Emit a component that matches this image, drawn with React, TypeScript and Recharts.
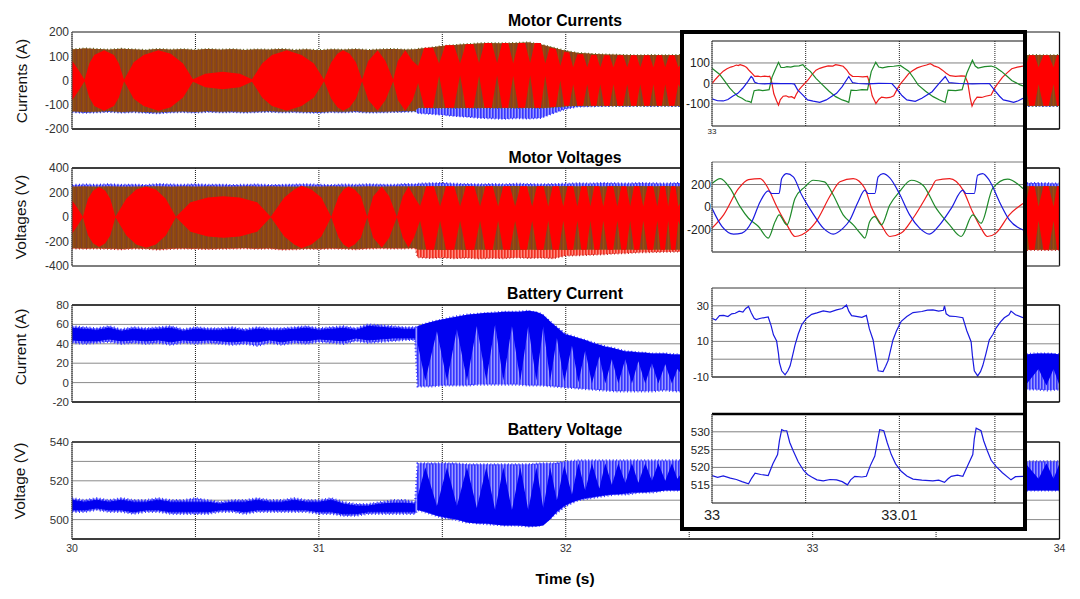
import React from "react";
import { ComposedChart, Area, Line, XAxis, YAxis, CartesianGrid, ReferenceLine } from "recharts";

const W = 1080, H = 599;
const SANS = "'Liberation Sans', Arial, sans-serif";

// ---------- shared envelope time base (seconds); 32.5-33.85 lies behind the inset
const envelopeTimes = [30,30.05,30.1,30.15,30.2,30.25,30.3,30.35,30.4,30.45,30.5,30.55,30.6,30.65,30.7,30.75,30.8,30.85,30.9,30.95,31,31.05,31.1,31.15,31.2,31.25,31.3,31.35,31.39,31.4,31.45,31.5,31.55,31.6,31.65,31.7,31.75,31.8,31.85,31.9,31.95,32,32.05,32.1,32.15,32.2,32.25,32.3,32.35,32.4,32.45,32.5,33.85,33.9,33.95,34];

// ---------- Motor currents
const currentHigh = [128,132,130,127,131,128,126,130,127,129,126,130,127,129,126,128,127,130,126,128,125,128,127,129,126,128,130,127,128,130,135,142,146,150,153,154,153,155,157,148,135,122,113,110,107,106,105,104,105,104,105,104,104,105,104,105];
const currentLow = [-127,-129,-128,-126,-129,-127,-130,-131,-128,-127,-129,-126,-128,-127,-129,-127,-126,-128,-127,-129,-130,-127,-128,-126,-129,-128,-127,-126,-126,-112,-112,-113,-112,-113,-112,-113,-112,-113,-112,-113,-110,-106,-104,-104,-104,-105,-104,-105,-104,-104,-105,-104,-104,-105,-104,-105];
const currentBlueLow = [-131,-134,-132,-130,-133,-131,-134,-136,-132,-131,-133,-130,-132,-131,-133,-131,-130,-132,-131,-133,-134,-131,-132,-130,-133,-132,-131,-130,-128,-135,-138,-142,-147,-150,-155,-157,-159,-156,-158,-155,-135,-118,-108,-107,-106,-105,-106,-105,-106,-105,-106,-105,-106,-105,-106,-105];
const currentRedTimes = [30,30.025,30.051,30.07,30.09,30.13,30.17,30.19,30.211,30.25,30.29,30.35,30.4,30.45,30.49,30.54,30.61,30.68,30.729,30.77,30.81,30.87,30.93,30.98,31.021,31.05,31.075,31.098,31.125,31.15,31.175,31.2,31.238,31.27,31.301,31.32,31.35,31.38,
  31.402,31.427,31.462,31.487,31.512,31.547,31.572,31.595,31.626,31.649,31.671,31.7,31.722,31.742,31.767,31.787,31.808,31.835,31.856,31.874,31.899,31.917,31.935,31.96,31.978,31.994,32.014,32.03,32.047,32.07,32.087,32.103,32.124,32.14,32.156,32.177,32.193,32.21,32.232,32.249,32.265,32.286,32.302,32.318,32.339,32.355,32.369,32.389,32.403,32.419,32.44,32.456,32.5,33.85,33.862,33.878,33.899,33.915,33.935,33.956,33.976,33.99,34];
const currentRedHigh = [82,45,3,70,105,125,105,70,3,75,105,125,110,70,5,28,36,28,5,70,105,125,105,70,3,75,110,125,110,75,3,80,125,80,3,80,125,80,
  60,135,135,70,145,145,70,150,150,72,155,155,72,155,155,70,155,155,72,155,155,70,135,130,60,118,115,55,108,108,55,105,105,55,104,104,55,104,104,55,104,104,55,104,104,55,104,104,55,104,104,55,104,104,55,104,104,55,104,104,55,104,104];
const currentRedLow = [-82,-45,-3,-70,-105,-125,-105,-70,-3,-75,-105,-125,-110,-70,-5,-28,-36,-28,-5,-70,-105,-125,-105,-70,-3,-75,-110,-125,-110,-75,-3,-80,-125,-80,-3,-80,-125,-80,
  -10,-112,-112,20,-112,-112,22,-112,-112,20,-112,-112,22,-112,-112,20,-112,-112,22,-112,-112,20,-110,-108,0,-104,-104,-15,-104,-104,-15,-104,-104,-15,-104,-104,-15,-104,-104,-15,-104,-104,-15,-104,-104,-15,-104,-104,-15,-104,-104,-15,-104,-104,-15,-104,-104,-15,-104,-104,-15,-104,-104];

// ---------- Motor voltages
const voltageBlueHigh = [262,266,264,268,263,265,262,270,266,264,268,263,265,262,264,266,262,263,265,268,264,262,266,264,268,265,263,270,268,272,276,278,272,270,268,270,268,272,270,268,270,272,276,274,278,276,274,278,276,274,278,276,276,278,276,274];
const voltageHigh = [250,252,250,251,249,250,252,251,250,252,250,251,249,250,252,250,251,249,250,252,250,251,250,249,251,250,252,251,252,253,252,253,252,253,252,253,252,253,252,253,252,253,252,253,252,253,252,253,252,253,252,253,253,252,253,252];
const voltageLow = [-255,-257,-256,-258,-262,-256,-258,-264,-258,-256,-258,-260,-258,-256,-254,-258,-256,-264,-262,-258,-260,-256,-258,-262,-256,-254,-256,-255,-254,-268,-268,-270,-268,-270,-268,-270,-268,-270,-268,-270,-268,-270,-268,-268,-268,-268,-268,-268,-268,-268,-268,-268,-268,-268,-268,-268];
const voltagePinkLow = [-258,-260,-259,-262,-265,-259,-261,-268,-262,-259,-261,-264,-261,-259,-257,-261,-259,-267,-265,-261,-263,-259,-261,-265,-259,-257,-259,-258,-257,-330,-336,-332,-338,-334,-340,-336,-338,-332,-336,-334,-338,-316,-314,-310,-306,-300,-296,-290,-288,-286,-284,-283,-272,-270,-272,-270];
const voltageRedTimes = [30,30.02,30.044,30.065,30.085,30.11,30.135,30.155,30.176,30.22,30.26,30.3,30.34,30.38,30.421,30.48,30.55,30.613,30.68,30.75,30.805,30.86,30.9,30.93,30.97,31.01,31.05,31.08,31.1,31.12,31.145,31.17,31.196,31.22,31.255,31.285,31.316,31.34,31.363,31.385,
  31.41,31.435,31.466,31.491,31.515,31.548,31.572,31.596,31.629,31.653,31.675,31.704,31.726,31.747,31.774,31.795,31.816,31.843,31.864,31.883,31.91,31.929,31.947,31.972,31.99,32.007,32.03,32.047,32.063,32.084,32.1,32.116,32.136,32.152,32.169,32.192,32.209,32.225,32.245,32.261,32.277,32.298,32.314,32.331,32.354,32.371,32.384,32.402,32.415,32.427,32.444,32.456,32.5,33.85,33.862,33.878,33.899,33.915,33.935,33.956,33.976,33.99,34];
const voltageRedHigh = [137,80,3,150,215,245,215,150,3,150,225,250,225,150,3,120,160,170,160,120,3,160,225,255,225,160,3,170,225,250,225,170,3,170,250,170,3,170,250,170,
  90,252,252,85,252,252,85,252,252,85,252,252,85,252,252,85,252,252,85,252,252,85,252,252,85,252,252,85,252,252,85,252,252,85,252,252,85,252,252,85,252,252,85,252,252,85,252,252,85,252,252,85,252,252,85,252,252,85,252,252,85,252,252];
const voltageRedLow = [-137,-80,-3,-150,-215,-245,-215,-150,-3,-150,-225,-250,-225,-150,-3,-120,-160,-170,-160,-120,-3,-160,-225,-255,-225,-160,-3,-170,-225,-250,-225,-170,-3,-170,-250,-170,-3,-170,-250,-170,
  -30,-268,-268,-30,-268,-268,-30,-268,-268,-30,-268,-268,-30,-268,-268,-30,-268,-268,-30,-268,-268,-30,-268,-268,-30,-268,-268,-30,-268,-268,-30,-268,-268,-30,-268,-268,-30,-268,-268,-30,-268,-268,-30,-268,-268,-30,-268,-268,-30,-268,-268,-30,-268,-268,-30,-268,-268,-30,-268,-268,-30,-268,-268];

// ---------- Battery current
const batteryCurrentHigh = [58,57,56,58,55,57,56,57,58,55,57,56,56,57,55,57,56,56,57,58,56,57,58,56,60,59,58,57,57,58,62,65,68,70,71,72,73,73,74,71,60,50,46,42,38,35,32,31,30,30,29,29,29,30,30,29];
const batteryCurrentLow = [41,40,41,42,40,41,40,41,39,41,40,41,40,39,40,38,41,39,41,40,42,41,40,43,41,42,43,44,44,-4,-4,-3,-3,-3,-2,-2,-2,-2,-3,-3,-4,-5,-6,-7,-8,-9,-9,-9,-9,-8,-9,-9,-7,-7,-8,-7];
const batteryCurrentCoreHigh = [56,55,54,56,53,55,54,55,56,53,55,54,54,55,53,55,54,54,55,56,54,55,56,54,58,57,56,55,55];
const batteryCurrentCoreLow = [44,43,43,45,43,44,43,44,42,44,43,44,43,42,43,42,44,42,44,43,45,44,43,46,44,45,46,46,46];
const batteryLobeTimes = [31.4,31.431,31.478,31.519,31.559,31.6,31.64,31.678,31.714,31.747,31.782,31.816,31.848,31.881,31.909,31.937,31.964,31.994,32.025,32.051,32.079,32.106,32.136,32.16,32.187,32.213,32.241,32.268,32.294,32.322,32.349,32.375,32.403,32.43,32.452,32.5,33.862,33.915,33.947,33.976,34];
const batteryCurrentLobeHigh = [58,61,64,66,68,70,71,72,72,73,73,73,74,73,70,63,57,50,48,46,44,41,39,37,36,34,32,32,31,31,30,30,30,29,29,29,29,30,30,30,29];
const batteryCurrentLobeLow = [40,2,53,2,55,2,58,2,60,2,58,2,58,2,58,2,46,1,38,0,33,-1,27,-1,24,-1,24,-1,22,-1,20,-1,19,-1,14,-1,-3,14,-3,14,-3];

// ---------- Battery voltage
const batteryVoltageHigh = [511,510,511,510,511,510,510,511,510,510,511,510,509,510,510,511,510,510,511,510,510,511,509,508,508,509,510,510,509,529,529,529,529,528.5,528.5,528.5,528.5,528.5,528.5,529,529,530,530.5,530.5,530.5,530.5,530.5,530.5,530.5,530.5,530.5,530.5,530,530,530,530];
const batteryVoltageLow = [504,504,505,504,504,503,504,504,503,503,503,503,504,504,503,504,504,504,504,504,503,503,502,502,503,503,503,503,503,505,503,501,500,498.5,498,497.5,497,497,496.5,497,502,507,510,511,512,513,513,514,514,515,515,515,515,515,515,515];
const batteryVoltageCoreHigh = [510,509,510,509,510,509,509,510,509,509,509,509,508,509,509,510,509,509,510,509,509,510,508,507,507,508,508.5,508.5,508];
const batteryVoltageCoreLow = [505,505,506,505,505,504,505,505,504,504,504,504,505,505,504,505,505,505,505,505,504,504,503,503,504,504,504,504,504];
const batteryVoltageLobeHigh = [512,527,507,527,507,527,506,527,505,527,505,527,505,527,506,527,510,528,513,529,515,529,516,529,518,529,519,529,519,529,520,529,520,529,521,529,529,521,529,521,529];
const batteryVoltageLobeLow = [505,504,502,501,500,498.5,498,498,497.5,497,497,497,496.5,496.5,497,500,504,507,509,510,511,511.5,512,512.5,513,513,513.5,514,514,514,514.5,514.5,515,515,515,515,515,515,515,515,515];

// ---------- Inset: motor currents (time in ms after 33 s)
const insetCurrentRedMs = [0,.2,.4,.6,.8,1,1.15,1.3,1.4,1.5,1.7,1.85,2,2.15,2.28,2.45,2.6,2.8,3,3.08,3.18,3.3,3.45,3.55,3.65,3.8,3.95,4.1,4.25,4.4,4.5,4.65,4.8,4.95,5.15,5.35,5.55,5.75,5.95,6.2,6.45,6.6,6.8,7,7.2,7.35,7.5,7.8,8.05,8.3,8.4,8.55,8.75,8.9,9.05,9.3,9.5,9.7,9.9,10.07,10.3,10.5,10.7,10.95,11.2,11.45,11.65,11.85,12.1,12.3,12.5,12.7,13,13.3,13.5,13.65,13.78,13.88,14,14.15,14.4,14.6,14.9,15.1,15.3,15.5,15.75,16,16.3,16.6];
const insetCurrentRed = [0,22,42,60,72,80,84,90,87,92,86,78,62,48,35,36,33,36,34,36,10,-50,-85,-105,-78,-62,-60,-66,-64,-72,-52,-30,-14,0,20,45,65,74,80,86,85,92,88,84,65,45,35,34,32,35,5,-60,-98,-78,-66,-70,-68,-60,-25,0,25,48,62,76,84,90,97,86,78,65,50,38,35,37,36,5,-70,-110,-85,-66,-68,-62,-56,-20,5,30,52,72,80,85];
const insetCurrentGreenMs = [0,.2,.4,.65,.95,1.15,1.38,1.6,1.8,2,2.09,2.18,2.25,2.5,2.7,2.9,3.05,3.2,3.35,3.55,3.68,3.85,4,4.2,4.4,4.65,4.85,4.98,5.1,5.25,5.55,5.9,6.25,6.6,6.95,7.15,7.3,7.42,7.7,8,8.3,8.5,8.74,8.9,9.1,9.4,9.7,10.05,10.25,10.5,10.75,11,11.4,11.8,12.15,12.45,12.6,13,13.35,13.6,13.9,14.05,14.2,14.55,14.9,15.15,15.45,15.75,16,16.45,16.6];
const insetCurrentGreen = [75,60,45,15,-23,-42,-62,-72,-84,-88,-93,-60,-35,-31,-35,-32,-30,30,62,103,78,78,82,80,85,86,92,78,70,59,25,-7,-38,-64,-80,-86,-92,-32,-34,-30,-31,58,103,80,76,82,84,88,75,60,28,-7,-38,-64,-80,-92,-32,-35,-30,50,113,85,75,82,85,78,59,35,15,-7,-12];
const insetCurrentBlueMs = [0,.3,.6,.85,1.1,1.38,1.65,1.9,2.09,2.18,2.27,2.45,2.8,3.2,3.7,4.2,4.4,4.57,4.8,5.1,5.4,5.75,6.1,6.4,6.65,6.95,7.3,7.5,7.8,8.3,8.9,9.6,9.9,10.15,10.4,10.85,11.2,11.75,12.1,12.45,12.65,13.2,13.9,14.8,15.1,15.35,15.55,15.85,16.1,16.35,16.6];
const insetCurrentBlue = [-75,-84,-85,-78,-62,-48,-22,8,34,26,7,0,-2,1,-1,0,-3,-31,-52,-80,-86,-92,-80,-62,-48,-15,34,5,0,-2,1,0,-31,-60,-80,-87,-72,-40,-2,34,5,0,-2,0,-35,-62,-80,-86,-92,-84,-72];

// ---------- Inset: motor voltages
const insetVoltageRedMs = [0,0.62,1.42,1.95,2.57,3,3.46,4,4.43,4.8,5.5,6.38,6.83,7.54,8.16,8.5,9.04,9.49,10.1,10.73,11.7,11.97,12.68,13.4,13.9,14.36,14.7,15.16,15.87,16.6];
const insetVoltageRed = [-188,-70,165,244,253,165,3,-159,-262,-247,-144,120,224,253,165,3,-159,-262,-232,-100,165,238,253,150,-41,-188,-262,-232,-70,32];
const insetVoltageGreenMs = [0,0.44,0.97,1.5,1.95,2.48,3,3.37,3.58,4,4.43,4.96,5.4,6,6.47,7,7.54,7.98,8.16,8.42,8.69,9.04,9.49,10,10.64,11.26,11.97,12.68,13.3,13.92,14.36,14.98,15.78,16.6];
const insetVoltageGreen = [209,253,165,3,-100,-173,-276,-129,-70,-159,76,179,238,224,106,-70,-159,-247,-276,-129,-85,-159,18,135,238,194,-12,-159,-262,-70,-144,165,247,165];
const insetVoltageBlueMs = [0,0.53,1.15,1.6,2.13,2.57,3,3.19,3.58,3.72,3.99,4.34,4.79,5.32,5.94,6.47,7,7.36,7.8,8.16,8.33,8.69,8.87,9.13,9.49,10,10.55,11.08,11.6,12.15,12.77,13.39,13.56,14,14.18,14.45,14.8,15.34,15.87,16.6];
const insetVoltageBlue = [-12,-173,-241,-232,-129,47,144,120,120,253,297,268,106,-41,-188,-241,-188,-115,47,150,120,120,268,297,259,120,-70,-188,-241,-159,-12,150,120,120,282,297,238,47,-115,-203];

// ---------- Inset: battery current / voltage
const insetBatteryCurrentMs = [0,.2,.4,.62,.85,1.05,1.24,1.45,1.65,1.8,1.95,2.1,2.25,2.36,2.6,3,3.15,3.28,3.45,3.55,3.6,3.72,3.9,4.05,4.17,4.3,4.43,4.6,4.79,5.05,5.32,5.6,5.94,6.3,6.65,6.95,7.18,7.3,7.45,7.62,8,8.24,8.4,8.6,8.72,8.87,9.13,9.27,9.4,9.55,9.66,9.85,10.1,10.4,10.73,11.2,11.5,11.79,12.1,12.35,12.41,12.5,12.68,13,13.39,13.6,13.83,13.9,14,14.18,14.33,14.45,14.62,14.8,15,15.16,15.4,15.6,15.85,15.96,16.2,16.6];
const insetBatteryCurrent = [23,22,24.5,24.6,24,25.5,25.8,27,26.5,28.5,29.6,26,23,22.3,23,23.7,19,13.7,10.2,3,-2,-6.5,-8.8,-6.5,-3.7,2,7.9,14,19.4,23,25.2,26,27.1,26.5,27.7,28.5,30.4,27,24.5,24.2,23.5,24.6,17,10.8,3,-6.5,-6.9,-4,-0.8,6,10.8,16,21.3,24,26.2,26.8,27.6,27.7,27,27.5,30,25.5,24.2,24,23.3,16,9.8,2,-6.5,-9.4,-7,-3.7,3,10.8,14,17.5,21,23.3,25,27,25,23.3];
const insetBatteryVoltageMs = [0,.3,.6,.98,1.3,1.6,1.95,2.12,2.3,2.6,3,3.25,3.5,3.6,3.72,3.85,3.99,4.15,4.34,4.6,4.88,5.1,5.32,5.6,5.94,6.3,6.65,6.95,7.23,7.4,7.62,8,8.24,8.45,8.69,8.82,8.95,9.17,9.35,9.57,9.8,10.1,10.4,10.73,11.2,11.79,12.1,12.41,12.6,12.77,13.1,13.39,13.65,13.92,14,14.1,14.36,14.5,14.7,14.9,15.16,15.5,15.96,16.2,16.6];
const insetBatteryVoltage = [517.7,517.2,517.6,517,516.6,516,515.4,517,518.4,518,517.7,521,523.6,527.5,530.6,530.3,530.3,527,524.6,521.6,519.2,518,517.3,516.5,516.2,516.6,516.5,516,515.1,516.5,517.5,517.3,517.5,520.5,523.2,527,530.6,530.3,527,523.6,521,518.9,517.6,516.7,516.4,516.2,516.4,515.8,516.8,517.5,517.8,517.5,520.5,523.6,528,531,530.3,527.5,524.6,522,520.3,518.5,516.5,517.4,517.5];

// ---------- tick labels
const mainTimeTicks = [30,30.5,31,31.5,32,32.5,33,33.5,34];
const mainTimeLabels = [30,31,32,33,34];
const currentTicks = [-200,-100,0,100,200];
const voltageTicks = [-400,-200,0,200,400];
const batteryCurrentTicks = [-20,0,20,40,60,80];
const batteryVoltageTicks = [490,500,510,520,530,540];
const batteryVoltageLabels = [500,520,540];
const insetTimeTicks = [33,33.005,33.01,33.0151];

const band = (t: number[], lo: number[], hi: number[]) => t.map((x, i) => ({ t: x, band: [lo[i], hi[i]] }));
const trace = (ms: number[], v: number[]) => ms.map((x, i) => ({ t: 33 + x / 1000, v: v[i] }));
const floorOf = (t: number[], value: number) => t.map(() => value);

const fillArea = (key: string, data: any[], fill: string, stroke = "none", strokeWidth = 0, dash?: string) => (
  <Area key={key} data={data} dataKey="band" type="linear" fill={fill} fillOpacity={1} stroke={stroke} strokeWidth={strokeWidth} strokeDasharray={dash} dot={false} activeDot={false} isAnimationActive={false} legendType="none" />
);

const traceLine = (key: string, data: any[], stroke: string, curve: any = "linear", width = 1.2) => (
  <Line key={key} data={data} dataKey="v" type={curve} stroke={stroke} strokeWidth={width} dot={false} activeDot={false} isAnimationActive={false} legendType="none" />
);

const layer: React.CSSProperties = { position: "absolute", left: 0, top: 0 };

function MainPanel(props: any) {
  const { top, bottom, domain, ticks, labels, tickFont, title, titleY, yLabel, yLabelX, yLabelY, topStroke, bottomStroke, showTime, children } = props;
  return (
    <div style={layer}>
      <ComposedChart width={W} height={H} margin={{ left: 71, right: 20.5, top, bottom: H - bottom - 1 }}>
        <CartesianGrid horizontal={false} verticalValues={mainTimeTicks} stroke="#1a1a1a" strokeDasharray="1 1" />
        <CartesianGrid vertical={false} horizontalValues={ticks} stroke="#8a8a8a" />
        <XAxis dataKey="t" type="number" domain={[30, 34]} ticks={mainTimeTicks} interval={0} height={1} axisLine={{ stroke: bottomStroke, strokeWidth: 1.3 }} tickLine={false} tick={{ fontSize: 10.5, fill: "#333", fontFamily: SANS }} tickMargin={0} tickFormatter={(v: number) => (showTime && mainTimeLabels.includes(v) ? String(v) : "")} allowDataOverflow />
        <YAxis type="number" domain={domain} ticks={ticks} width={1} interval={0} axisLine={{ stroke: "#444" }} tickLine={false} tickSize={0} tick={{ fontSize: tickFont, fill: "#333", fontFamily: SANS }} tickMargin={3} tickFormatter={(v: number) => (labels.includes(v) ? String(v) : "")} allowDataOverflow />
        {children}
        <ReferenceLine y={domain[1]} stroke={topStroke} strokeWidth={1.3} />
        <ReferenceLine x={34} stroke="#111" strokeWidth={1.3} />
        <text x={565} y={titleY} textAnchor="middle" fontFamily={SANS} fontWeight="bold" fontSize={15.8} fill="#000">{title}</text>
        <text transform={`translate(${yLabelX},${yLabelY}) rotate(-90)`} textAnchor="middle" fontFamily={SANS} fontSize={15.5} fill="#111">{yLabel}</text>
        {showTime ? <text x={565} y={584} textAnchor="middle" fontFamily={SANS} fontWeight="bold" fontSize={15.5} fill="#000">Time (s)</text> : null}
      </ComposedChart>
    </div>
  );
}

function InsetPanel(props: any) {
  const { top, bottom, domain, ticks, labels, tickFont, tickGap, timeLabels, timeFont, timeFill, timeGap, topStroke, topWidth, children } = props;
  return (
    <div style={layer}>
      <ComposedChart width={W} height={H} margin={{ left: 711, right: 57, top, bottom: H - bottom - 1 }}>
        <CartesianGrid horizontal={false} verticalValues={insetTimeTicks} stroke="#222" strokeDasharray="1 1" />
        <CartesianGrid vertical={false} horizontalValues={ticks} stroke="#808080" />
        <XAxis dataKey="t" type="number" domain={[33, 33.0166]} ticks={insetTimeTicks} height={1} interval={0} axisLine={{ stroke: "#111", strokeWidth: 1.2 }} tickLine={false} tick={{ fontSize: timeFont, fill: timeFill, fontFamily: SANS }} tickMargin={timeGap} tickFormatter={(v: number) => { const s = String(Math.round(v * 1000) / 1000); return timeLabels.includes(s) ? s : ""; }} allowDataOverflow />
        <YAxis type="number" domain={domain} ticks={ticks} width={1} interval={0} axisLine={{ stroke: "#555" }} tickLine={false} tickSize={0} tick={{ fontSize: tickFont, fill: "#222", fontFamily: SANS }} tickMargin={tickGap} tickFormatter={(v: number) => (labels.includes(v) ? String(v) : "")} allowDataOverflow />
        {children}
        <ReferenceLine y={domain[1]} stroke={topStroke} strokeWidth={topWidth} />
      </ComposedChart>
    </div>
  );
}

export default function App() {
  return (
    <div style={{ position: "absolute", left: 0, top: 0, width: W, height: H, overflow: "hidden", background: "#fff" }}>
      <svg width={0} height={0} style={{ position: "absolute" }}>
        <defs>
          <pattern id="brownStripes" width={5} height={10} patternUnits="userSpaceOnUse">
            <rect width={5} height={10} fill="#8c4712" />
            <rect x={1} width={1} height={10} fill="#80402c" />
            <rect x={3} width={1} height={10} fill="#965014" />
          </pattern>
          <pattern id="blueStripes" width={3} height={10} patternUnits="userSpaceOnUse">
            <rect width={3} height={10} fill="#9a9aff" />
            <rect width={1.6} height={10} fill="#3535ff" />
          </pattern>
          <pattern id="pinkStripes" width={3} height={10} patternUnits="userSpaceOnUse">
            <rect width={3} height={10} fill="#ff8a80" />
            <rect width={1.6} height={10} fill="#f03020" />
          </pattern>
        </defs>
      </svg>

      <MainPanel top={32} bottom={129} domain={[-200, 200]} ticks={currentTicks} labels={currentTicks} tickFont={12} title="Motor Currents" titleY={26} yLabel="Currents (A)" yLabelX={27} yLabelY={81} topStroke="#777" bottomStroke="#111">
        {fillArea("cb", band(envelopeTimes, currentBlueLow, floorOf(envelopeTimes, 0)), "url(#blueStripes)", "#3030ff", 1.6, "1 2.5")}
        {fillArea("cg", band(envelopeTimes, currentLow, currentHigh), "#8c4712", "#5a6a20", 2, "1 2.5")}
        {fillArea("cbr", band(envelopeTimes, currentLow, currentHigh), "url(#brownStripes)")}
        {fillArea("cr", band(currentRedTimes, currentRedLow, currentRedHigh), "#ff0000")}
      </MainPanel>

      <MainPanel top={168} bottom={266} domain={[-400, 400]} ticks={voltageTicks} labels={voltageTicks} tickFont={12} title="Motor Voltages" titleY={163} yLabel="Voltages (V)" yLabelX={26} yLabelY={217} topStroke="#111" bottomStroke="#666">
        {fillArea("vp", band(envelopeTimes, voltagePinkLow, floorOf(envelopeTimes, 0)), "url(#pinkStripes)", "#c03030", 1.6, "1 2.5")}
        {fillArea("vb", band(envelopeTimes, floorOf(envelopeTimes, 0), voltageBlueHigh), "url(#blueStripes)", "#2828ee", 1.8, "1 2.5")}
        {fillArea("vbr", band(envelopeTimes, voltageLow, voltageHigh), "url(#brownStripes)")}
        {fillArea("vr", band(voltageRedTimes, voltageRedLow, voltageRedHigh), "#ff0000")}
      </MainPanel>

      <MainPanel top={305} bottom={402} domain={[-20, 80]} ticks={batteryCurrentTicks} labels={batteryCurrentTicks} tickFont={11.5} title="Battery Current" titleY={299} yLabel="Current (A)" yLabelX={26} yLabelY={347} topStroke="#111" bottomStroke="#111">
        {fillArea("bcl", band(envelopeTimes, batteryCurrentLow, batteryCurrentHigh), "url(#blueStripes)", "#3a3aff", 2.2, "1 2.5")}
        {fillArea("bcc", band(envelopeTimes.slice(0, 29), batteryCurrentCoreLow, batteryCurrentCoreHigh), "#0000f0", "#0000f0", 1)}
        {fillArea("bcd", band(batteryLobeTimes, batteryCurrentLobeLow, batteryCurrentLobeHigh), "#0000f0")}
      </MainPanel>

      <MainPanel top={442} bottom={539} domain={[490, 540]} ticks={batteryVoltageTicks} labels={batteryVoltageLabels} tickFont={11.5} title="Battery Voltage" titleY={435} yLabel="Voltage (V)" yLabelX={25} yLabelY={481} topStroke="#222" bottomStroke="#111" showTime>
        {fillArea("bvl", band(envelopeTimes, batteryVoltageLow, batteryVoltageHigh), "url(#blueStripes)", "#3a3aff", 2.2, "1 2.5")}
        {fillArea("bvc", band(envelopeTimes.slice(0, 29), batteryVoltageCoreLow, batteryVoltageCoreHigh), "#0000f0", "#0000f0", 1)}
        {fillArea("bvd", band(batteryLobeTimes, batteryVoltageLobeLow, batteryVoltageLobeHigh), "#0000f0")}
      </MainPanel>

      <div style={{ position: "absolute", left: 680, top: 30, width: 339, height: 493, border: "4px solid #000", background: "#fff" }} />

      <InsetPanel top={41} bottom={126} domain={[-207, 207]} ticks={[-100, 0, 100]} labels={[-100, 0, 100]} tickFont={12} tickGap={2} timeLabels={["33"]} timeFont={8} timeFill="#222" timeGap={-4} topStroke="#111" topWidth={1.2}>
        {traceLine("ar", trace(insetCurrentRedMs, insetCurrentRed), "#ee1c1c")}
        {traceLine("ag", trace(insetCurrentGreenMs, insetCurrentGreen), "#1f8a2a")}
        {traceLine("ab", trace(insetCurrentBlueMs, insetCurrentBlue), "#1a1ae0")}
      </InsetPanel>
      <InsetPanel top={162} bottom={252} domain={[-400, 400]} ticks={[-200, 0, 200]} labels={[-200, 0, 200]} tickFont={12} tickGap={1} timeLabels={[]} timeFont={8} timeFill="#222" timeGap={2} topStroke="#777" topWidth={1}>
        {traceLine("br", trace(insetVoltageRedMs, insetVoltageRed), "#ee1c1c", "monotoneX")}
        {traceLine("bg", trace(insetVoltageGreenMs, insetVoltageGreen), "#1f8a2a", "monotoneX")}
        {traceLine("bb", trace(insetVoltageBlueMs, insetVoltageBlue), "#1a1ae0", "monotoneX")}
      </InsetPanel>
      <InsetPanel top={288} bottom={377} domain={[-10, 40]} ticks={[-10, 0, 10, 20, 30, 40]} labels={[-10, 10, 30]} tickFont={11} tickGap={3} timeLabels={[]} timeFont={8} timeFill="#222" timeGap={2} topStroke="#777" topWidth={1}>
        {traceLine("c", trace(insetBatteryCurrentMs, insetBatteryCurrent), "#1a1ae0")}
      </InsetPanel>
      <InsetPanel top={414} bottom={503} domain={[510, 535]} ticks={[515, 520, 525, 530]} labels={[515, 520, 525, 530]} tickFont={11.5} tickGap={2} timeLabels={["33", "33.01"]} timeFont={14.5} timeFill="#222" timeGap={1} topStroke="#000" topWidth={2.5}>
        {traceLine("d", trace(insetBatteryVoltageMs, insetBatteryVoltage), "#1a1ae0")}
      </InsetPanel>
    </div>
  );
}
